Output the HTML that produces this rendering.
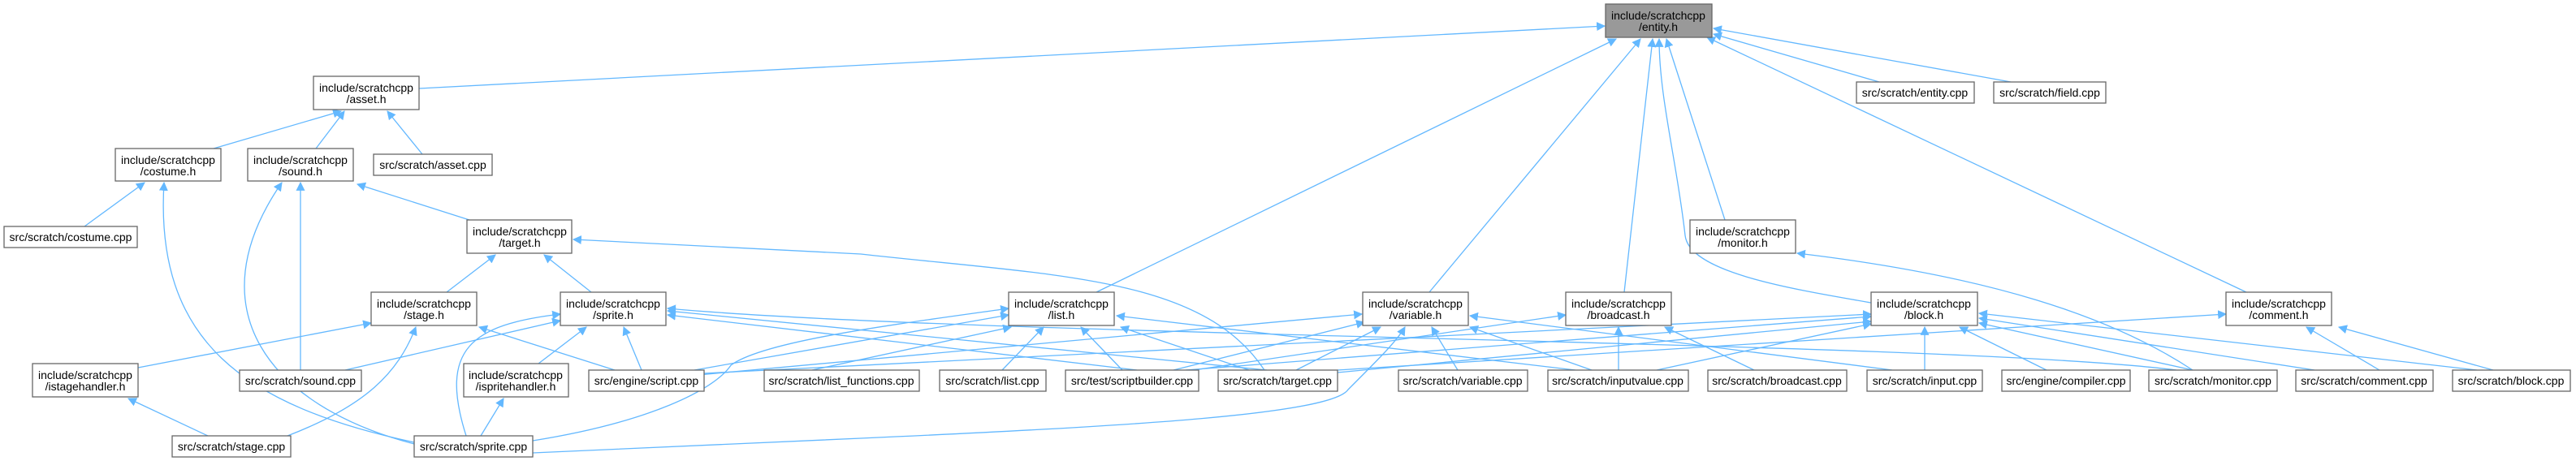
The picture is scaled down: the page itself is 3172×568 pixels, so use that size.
<!DOCTYPE html>
<html><head><meta charset="utf-8"><style>
html,body{margin:0;padding:0;background:#fff;}
svg{display:block;}
text{font-family:"Liberation Sans",Arial,sans-serif;font-size:14px;fill:#000;text-anchor:middle;}
.n{fill:#fff;stroke:#666;stroke-width:1.3;}
.g{fill:#999;stroke:#666;stroke-width:1.3;}
.e{fill:none;stroke:#63b8ff;stroke-width:1.3;}
</style></head><body>
<svg width="3172" height="568" viewBox="0 0 3172 568" xmlns="http://www.w3.org/2000/svg">
<defs><marker id="a" viewBox="0 0 10 10" refX="9" refY="5" markerWidth="11" markerHeight="11" markerUnits="userSpaceOnUse" orient="auto"><path d="M0,0 L10,5 L0,10 z" fill="#63b8ff"/></marker></defs>
<g marker-end="url(#a)">
<path class="e" d="M516,109 L1976,32"/>
<path class="e" d="M1350,360 L1990,48"/>
<path class="e" d="M1760,360 L2020,48"/>
<path class="e" d="M2000,360 L2035,48"/>
<path class="e" d="M2304,373 C2200,355 2080,335 2075,290 C2065,200 2043,120 2043,48"/>
<path class="e" d="M2124,271 L2052,48"/>
<path class="e" d="M2766,360 L2102,46"/>
<path class="e" d="M2314,101 L2110,42"/>
<path class="e" d="M2476,101 L2110,35"/>
<path class="e" d="M263,183 L420,137"/>
<path class="e" d="M389,183 L424,137"/>
<path class="e" d="M520,190 L477,137"/>
<path class="e" d="M104,279 L178,225"/>
<path class="e" d="M510,545 C300,500 190,420 202,225"/>
<path class="e" d="M370,456 L370,225"/>
<path class="e" d="M510,547 C330,500 240,380 347,225"/>
<path class="e" d="M578,271 L440,227"/>
<path class="e" d="M550,360 L610,314"/>
<path class="e" d="M728,360 L670,314"/>
<path class="e" d="M1557,456 C1480,340 1300,340 1060,313 L706,295"/>
<path class="e" d="M170,453 L457,398"/>
<path class="e" d="M757,456 L590,403"/>
<path class="e" d="M354,537 C450,500 490,460 512,403"/>
<path class="e" d="M425,456 L690,395"/>
<path class="e" d="M663,448 L722,403"/>
<path class="e" d="M790,456 L768,403"/>
<path class="e" d="M574,537 C540,430 580,400 690,387"/>
<path class="e" d="M1400,456 L822,388"/>
<path class="e" d="M1560,456 L822,383"/>
<path class="e" d="M2680,456 C2400,420 1200,415 822,380"/>
<path class="e" d="M592,537 L620,491"/>
<path class="e" d="M256,537 L158,491"/>
<path class="e" d="M855,456 L1242,388"/>
<path class="e" d="M656,543 C800,520 880,480 900,450 C940,420 1100,400 1242,380"/>
<path class="e" d="M656,558 L1060,540 C1400,525 1640,510 1660,480 C1700,440 1720,420 1730,403"/>
<path class="e" d="M1000,456 L1245,403"/>
<path class="e" d="M1234,456 L1285,403"/>
<path class="e" d="M1382,456 L1331,403"/>
<path class="e" d="M1538,456 L1380,403"/>
<path class="e" d="M1940,456 L1375,389"/>
<path class="e" d="M860,462 L1677,387"/>
<path class="e" d="M1445,456 L1680,397"/>
<path class="e" d="M1596,456 L1700,403"/>
<path class="e" d="M1795,456 L1763,403"/>
<path class="e" d="M1960,456 L1810,403"/>
<path class="e" d="M2330,456 L1810,389"/>
<path class="e" d="M1470,456 L1928,388"/>
<path class="e" d="M1993,456 L1993,403"/>
<path class="e" d="M2160,456 L2050,403"/>
<path class="e" d="M867,460 L2304,387"/>
<path class="e" d="M1460,456 L2304,390"/>
<path class="e" d="M1647,459 L2304,396"/>
<path class="e" d="M2040,456 L2304,399"/>
<path class="e" d="M2370,456 L2370,403"/>
<path class="e" d="M2520,456 L2413,403"/>
<path class="e" d="M2700,456 L2437,398"/>
<path class="e" d="M2850,456 L2437,392"/>
<path class="e" d="M3050,456 L2437,386"/>
<path class="e" d="M1647,456 L2741,387"/>
<path class="e" d="M2930,456 L2840,403"/>
<path class="e" d="M3070,456 L2880,403"/>
<path class="e" d="M2700,456 C2600,390 2450,340 2213,312"/>
</g>
<!-- nodes -->
<rect class="g" x="1977" y="5" width="131" height="41"/><text x="2042" y="24">include/scratchcpp</text><text x="2042" y="38">/entity.h</text>
<rect class="n" x="386" y="94" width="130" height="41"/><text x="451" y="113">include/scratchcpp</text><text x="451" y="127">/asset.h</text>
<rect class="n" x="142" y="183" width="130" height="40"/><text x="207" y="202">include/scratchcpp</text><text x="207" y="216">/costume.h</text>
<rect class="n" x="305" y="183" width="130" height="40"/><text x="370" y="202">include/scratchcpp</text><text x="370" y="216">/sound.h</text>
<rect class="n" x="460" y="190" width="146" height="26"/><text x="533" y="208">src/scratch/asset.cpp</text>
<rect class="n" x="5" y="279" width="164" height="26"/><text x="87" y="297">src/scratch/costume.cpp</text>
<rect class="n" x="575" y="271" width="129" height="41"/><text x="640" y="290">include/scratchcpp</text><text x="640" y="304">/target.h</text>
<rect class="n" x="457" y="360" width="130" height="41"/><text x="522" y="379">include/scratchcpp</text><text x="522" y="393">/stage.h</text>
<rect class="n" x="690" y="360" width="130" height="41"/><text x="755" y="379">include/scratchcpp</text><text x="755" y="393">/sprite.h</text>
<rect class="n" x="40" y="448" width="130" height="41"/><text x="105" y="467">include/scratchcpp</text><text x="105" y="481">/istagehandler.h</text>
<rect class="n" x="295" y="456" width="150" height="26"/><text x="370" y="474">src/scratch/sound.cpp</text>
<rect class="n" x="571" y="448" width="129" height="41"/><text x="635" y="467">include/scratchcpp</text><text x="635" y="481">/ispritehandler.h</text>
<rect class="n" x="725" y="456" width="142" height="26"/><text x="796" y="474">src/engine/script.cpp</text>
<rect class="n" x="941" y="456" width="191" height="26"/><text x="1036" y="474">src/scratch/list_functions.cpp</text>
<rect class="n" x="1157" y="456" width="131" height="26"/><text x="1222" y="474">src/scratch/list.cpp</text>
<rect class="n" x="1312" y="456" width="164" height="26"/><text x="1394" y="474">src/test/scriptbuilder.cpp</text>
<rect class="n" x="1500" y="456" width="147" height="26"/><text x="1573" y="474">src/scratch/target.cpp</text>
<rect class="n" x="1722" y="456" width="159" height="26"/><text x="1801" y="474">src/scratch/variable.cpp</text>
<rect class="n" x="1906" y="456" width="173" height="26"/><text x="1992" y="474">src/scratch/inputvalue.cpp</text>
<rect class="n" x="2103" y="456" width="171" height="26"/><text x="2188" y="474">src/scratch/broadcast.cpp</text>
<rect class="n" x="2299" y="456" width="142" height="26"/><text x="2370" y="474">src/scratch/input.cpp</text>
<rect class="n" x="2465" y="456" width="158" height="26"/><text x="2544" y="474">src/engine/compiler.cpp</text>
<rect class="n" x="2646" y="456" width="158" height="26"/><text x="2725" y="474">src/scratch/monitor.cpp</text>
<rect class="n" x="2827" y="456" width="169" height="26"/><text x="2911" y="474">src/scratch/comment.cpp</text>
<rect class="n" x="3020" y="456" width="145" height="26"/><text x="3092" y="474">src/scratch/block.cpp</text>
<rect class="n" x="212" y="537" width="146" height="26"/><text x="285" y="555">src/scratch/stage.cpp</text>
<rect class="n" x="510" y="537" width="146" height="26"/><text x="583" y="555">src/scratch/sprite.cpp</text>
<rect class="n" x="1242" y="360" width="130" height="41"/><text x="1307" y="379">include/scratchcpp</text><text x="1307" y="393">/list.h</text>
<rect class="n" x="1678" y="360" width="130" height="41"/><text x="1743" y="379">include/scratchcpp</text><text x="1743" y="393">/variable.h</text>
<rect class="n" x="1928" y="360" width="130" height="41"/><text x="1993" y="379">include/scratchcpp</text><text x="1993" y="393">/broadcast.h</text>
<rect class="n" x="2304" y="360" width="131" height="41"/><text x="2369" y="379">include/scratchcpp</text><text x="2369" y="393">/block.h</text>
<rect class="n" x="2741" y="360" width="130" height="41"/><text x="2806" y="379">include/scratchcpp</text><text x="2806" y="393">/comment.h</text>
<rect class="n" x="2081" y="271" width="130" height="41"/><text x="2146" y="290">include/scratchcpp</text><text x="2146" y="304">/monitor.h</text>
<rect class="n" x="2286" y="101" width="145" height="26"/><text x="2358" y="119">src/scratch/entity.cpp</text>
<rect class="n" x="2455" y="101" width="138" height="26"/><text x="2524" y="119">src/scratch/field.cpp</text>
</svg>
</body></html>
